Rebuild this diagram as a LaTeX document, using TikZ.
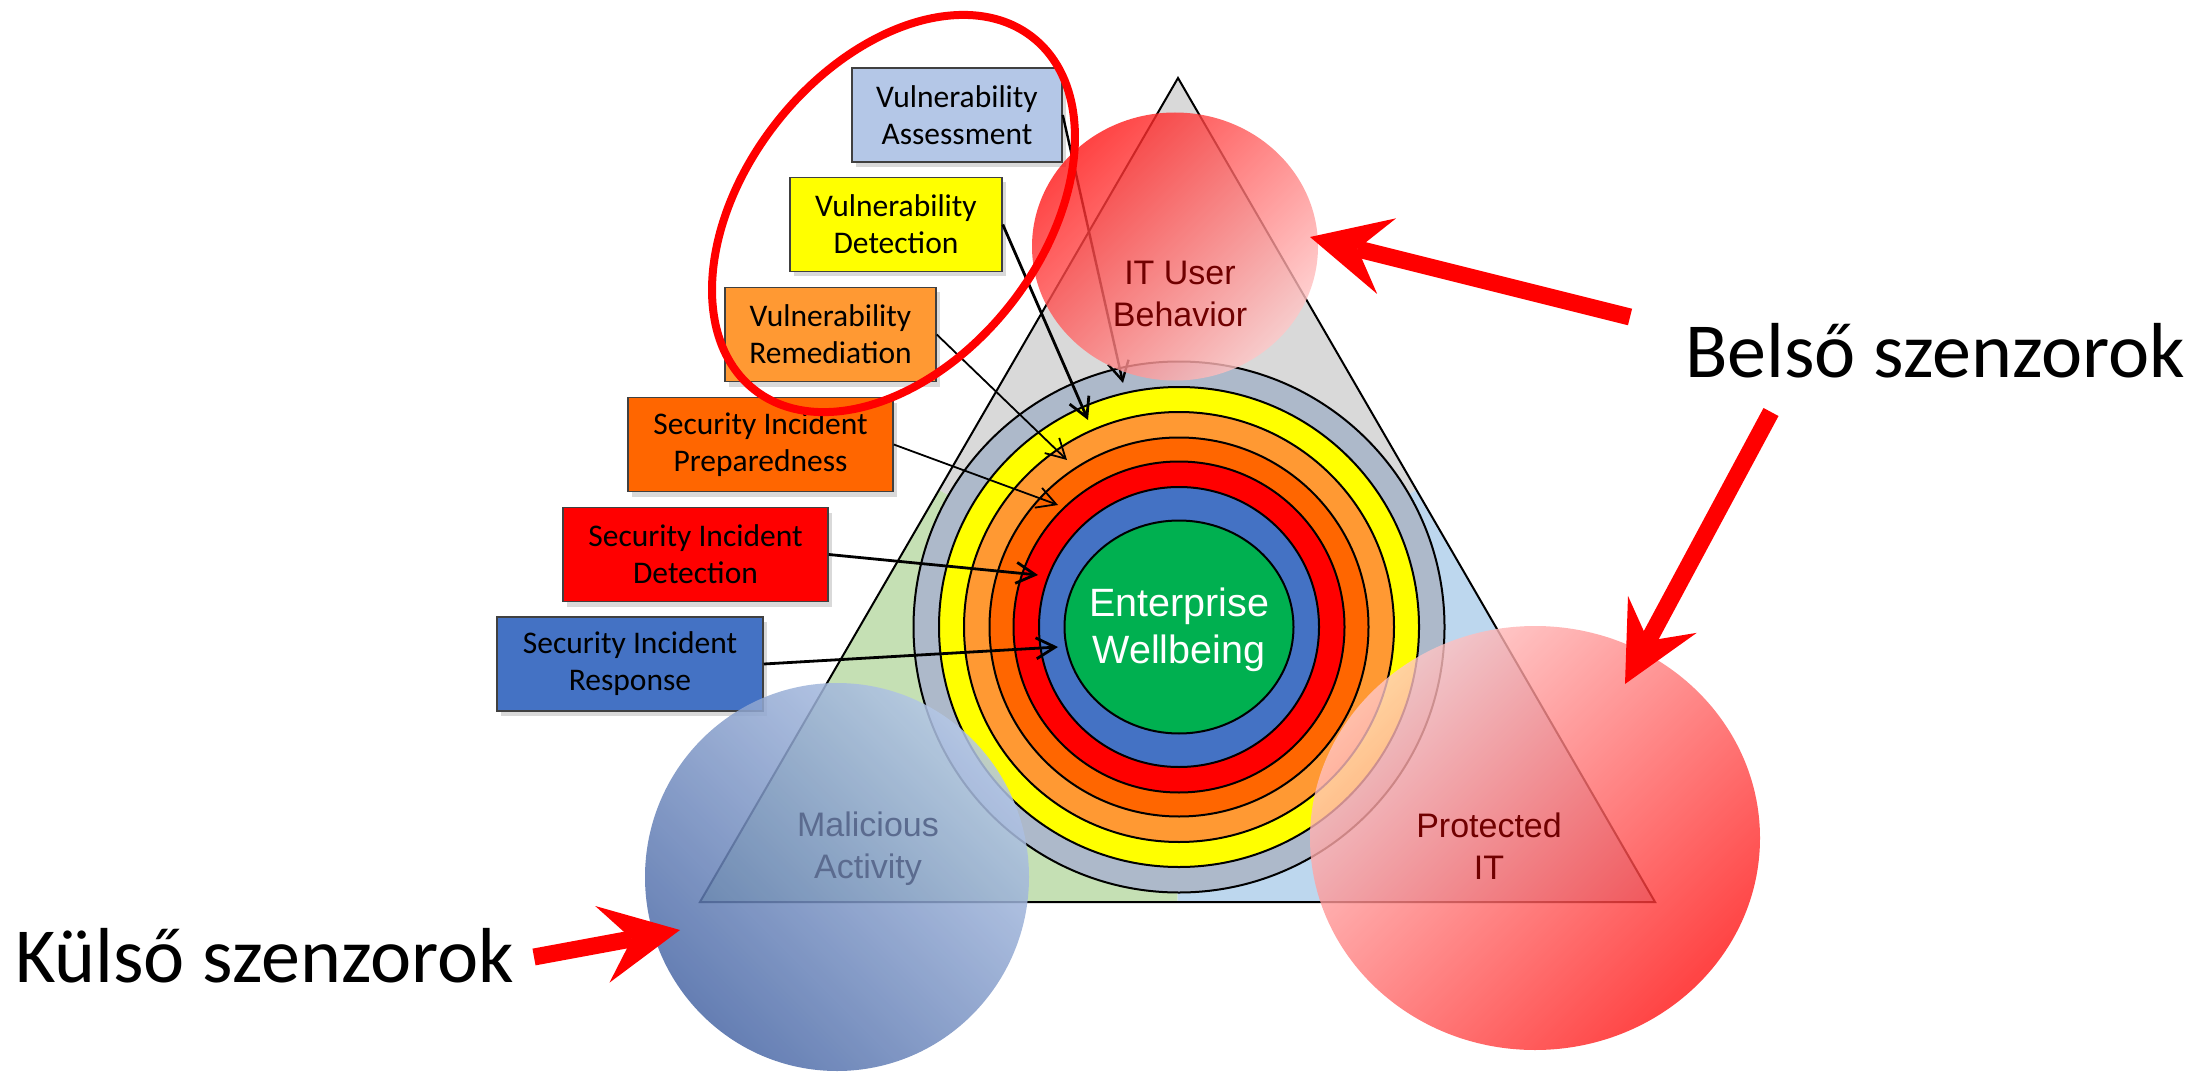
\documentclass[tikz,border=0pt]{standalone}
\usepackage{fontspec}
\setmainfont{Carlito}
\newfontfamily\arialf{Liberation Sans}
\usetikzlibrary{arrows.meta,calc,shadows,shapes.geometric}

\definecolor{zonegray}{HTML}{D9D9D9}
\definecolor{zonegreen}{HTML}{C5E0B4}
\definecolor{zoneblue}{HTML}{BDD7EE}
\definecolor{ringgray}{HTML}{ADB9CA}
\definecolor{ringyellow}{HTML}{FFFF00}
\definecolor{ringorange}{HTML}{FF9933}
\definecolor{ringdeep}{HTML}{FF6600}
\definecolor{ringred}{HTML}{FF0000}
\definecolor{ringblue}{HTML}{4472C4}
\definecolor{core}{HTML}{00B050}
\definecolor{boxblue}{HTML}{B4C7E7}
\definecolor{redstrong}{HTML}{FF1414}
\definecolor{redpale}{HTML}{FFC8C8}
\definecolor{bluelight}{HTML}{B4C7E7}
\definecolor{bluedark}{HTML}{4A68A6}
\definecolor{maroon}{HTML}{700000}
\definecolor{slate}{HTML}{5B6B8F}

\begin{document}
\begin{tikzpicture}[x=1pt,y=1pt,
  box/.style={draw=black!75, line width=1.5pt, inner sep=0pt, align=center,
    minimum height=94pt, font=\fontsize{31.5}{37}\selectfont,
    drop shadow={shadow xshift=4pt, shadow yshift=-5pt, opacity=0.3}},
  link/.style={draw=black, -{Straight Barb[length=19pt,width=21pt]}},
  thicklink/.style={link, line width=2.8pt},
  thinlink/.style={link, line width=1.8pt},
  ring/.style={draw=black, line width=2pt},
  blob/.style={ellipse, inner sep=0pt, draw=none, fill opacity=0.8, text opacity=1},
  blobtext/.style={align=center, font=\arialf\fontsize{34}{42}\selectfont},
  sensor/.style={draw=red, line width=17pt,
    -{Stealth[length=79pt,width=78pt,inset=30pt,line width=0pt]}},
  sensortext/.style={anchor=base west, inner sep=0pt, font=\fontsize{78}{94}\selectfont}
]
\useasboundingbox (0,0) rectangle (2187,-1083);

% triangle and its three zones
\coordinate (A) at (1178,-78);
\coordinate (B) at (700,-902);
\coordinate (C) at (1655,-902);
\coordinate (G) at (barycentric cs:A=1,B=1,C=1);
\coordinate (mAB) at ($(A)!0.5!(B)$);
\coordinate (mAC) at ($(A)!0.5!(C)$);
\coordinate (mBC) at ($(B)!0.5!(C)$);
\fill[zonegray]  (A) -- (mAC) -- (G) -- (mAB) -- cycle;
\fill[zonegreen] (B) -- (mAB) -- (G) -- (mBC) -- cycle;
\fill[zoneblue]  (C) -- (mBC) -- (G) -- (mAC) -- cycle;
\draw[line width=2pt, line join=miter] (A) -- (B) -- (C) -- cycle;

% concentric layers
\coordinate (O) at (1179,-627);
\filldraw[ring, fill=ringgray]   (O) circle[radius=265.5];
\filldraw[ring, fill=ringyellow] (O) circle[radius=240];
\filldraw[ring, fill=ringorange] (O) circle[radius=215];
\filldraw[ring, fill=ringdeep]   (O) circle[radius=189.5];
\filldraw[ring, fill=ringred]    (O) circle[radius=165.5];
\filldraw[ring, fill=ringblue]   (O) circle[radius=140];
\node[ellipse, draw=black, line width=2pt, fill=core, inner sep=0pt,
      minimum width=229pt, minimum height=213pt] (core) at (O) {};
\node[align=center, text=white, font=\arialf\fontsize{39.5}{47.3}\selectfont]
      (coretext) at (1179,-630) {Enterprise\\Wellbeing};

% capability boxes
\node[box, fill=boxblue,    minimum width=210pt] (va)  at (957,-115)   {Vulnerability\\Assessment};
\node[box, fill=ringyellow, minimum width=212pt] (vd)  at (896,-224.5) {Vulnerability\\Detection};
\node[box, fill=ringorange, minimum width=211pt] (vr)  at (830.5,-334.5) {Vulnerability\\Remediation};
\node[box, fill=ringdeep,   minimum width=265pt] (sip) at (760.5,-444.5) {Security Incident\\Preparedness};
\node[box, fill=ringred,    minimum width=265pt] (sid) at (695.5,-554.5) {Security Incident\\Detection};
\node[box, fill=ringblue,   minimum width=266pt] (sir) at (630,-664)   {Security Incident\\Response};

% where each capability lands in the layers
\coordinate (tva)  at (1123,-383);
\coordinate (tvd)  at (1088,-420);
\coordinate (tvr)  at (1067,-460);
\coordinate (tsip) at (1058,-505);
\coordinate (tsid) at (1038,-575);
\coordinate (tsir) at (1058,-647);
\draw[link, line width=2.4pt] (va.east) -- (tva);
\draw[thicklink] (vd.east)  -- (tvd);
\draw[thinlink]  (vr.east)  -- (tvr);
\draw[thinlink]  (sip.east) -- (tsip);
\draw[thicklink] (sid.east) -- (tsid);
\draw[thicklink] (sir.east) -- (tsir);

% the three corner areas
\node[blob, shade, top color=redstrong, bottom color=redpale, shading angle=45,
      minimum width=286pt, minimum height=268pt] (itu) at (1175,-246.5) {};
\node[blob, shade, top color=redpale, bottom color=redstrong, shading angle=45,
      minimum width=450pt, minimum height=424pt] (pit) at (1535,-838) {};
\node[blob, shade, top color=bluelight, bottom color=bluedark, shading angle=-45,
      fill opacity=0.85, minimum width=384pt, minimum height=388pt] (mal) at (837,-877) {};
\node[blobtext, text=maroon] (itutext) at (1180,-294) {IT User\\Behavior};
\node[blobtext, text=maroon] (pittext) at (1489,-846) {Protected\\IT};
\node[blobtext, text=slate]  (maltext) at (868,-849) {Malicious\\Activity};

% highlighted group
\coordinate (hlc) at (893.5,-213.5);
\draw[red, line width=8pt, rotate around={51.6:(hlc)}]
  (hlc) ellipse[x radius=224.5, y radius=148.2];

% sensor callouts
\node[sensortext] (belso) at (1685,-377) {Belső szenzorok};
\node[sensortext] (kulso) at (15,-982) {Külső szenzorok};
\coordinate (s1) at (1630,-317);
\coordinate (e1) at (1310,-237);
\coordinate (s2) at (1771,-412);
\coordinate (e2) at (1625,-684);
\coordinate (s3) at (534,-957);
\coordinate (e3) at (680,-930);
\draw[sensor] (s1) -- (e1);
\draw[sensor] (s2) -- (e2);
\draw[sensor] (s3) -- (e3);
\end{tikzpicture}
\end{document}
